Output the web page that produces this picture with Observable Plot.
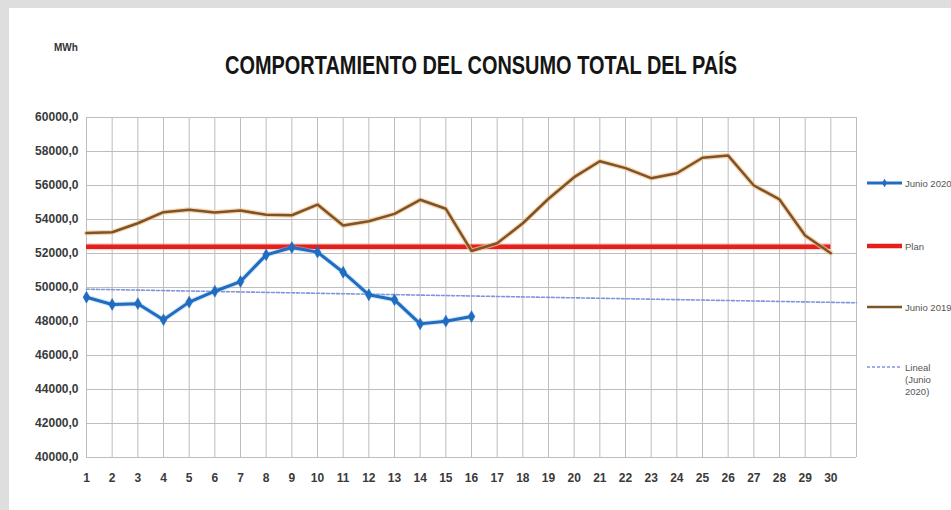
<!DOCTYPE html>
<html>
<head>
<meta charset="utf-8">
<script src="https://cdn.jsdelivr.net/npm/d3@7"></script>
<script src="https://cdn.jsdelivr.net/npm/@observablehq/plot@0.6"></script>
<style>
  html, body { margin: 0; padding: 0; }
  body { width: 951px; height: 510px; background: #dedede; position: relative; overflow: hidden; font-family: "Liberation Sans", Arial, sans-serif; }
  #panel { position: absolute; left: 9px; top: 8px; width: 960px; height: 520px; background: #ffffff; }
  #chart { position: absolute; left: 0; top: 0; }
  #unit { position: absolute; left: 54px; top: 42px; font-size: 10px; font-weight: bold; color: #333; }
  #title { position: absolute; left: 0; top: 0; }
  #legend { position: absolute; left: 0; top: 0; }
</style>
</head>
<body>
<div id="panel"></div>
<div id="chart"></div>
<div id="unit">MWh</div>
<svg id="title" width="951" height="100"></svg>
<svg id="legend" width="951" height="510"></svg>
<script>
const days = d3.range(1, 31);
const tickDays = d3.range(1, 31);
const gridDays = d3.range(1, 32);
const yTicks = d3.range(40000, 60001, 2000);

const junio2020Days = d3.range(1, 17);
const junio2020 = [49430, 49000, 49050, 48100, 49140, 49780, 50350, 51920, 52350, 52080, 50900, 49570, 49275, 47860, 48020, 48290];

const junio2019 = [53200, 53250, 53780, 54430, 54570, 54410, 54530, 54275, 54250, 54880,
                   53650, 53900, 54330, 55160, 54630, 52150, 52600, 53780, 55220, 56490,
                   57430, 57020, 56430, 56720, 57630, 57760, 56000, 55180, 53060, 52020];

const planValue = 52400;
const planDays = [1, 30];

const trendDays = [1, 31];
const trendValues = [49900, 49100];

const seriesNames = ["Junio 2020", "Plan", "Junio 2019", "Lineal (Junio 2020)"];

const colBlue = "#1f6cc0";
const colRed = "#e3201b";
const colBrown = "#7d5329";
const colTrend = "#7f95dc";

const data2020 = junio2020Days.map((d, i) => ({day: d, value: junio2020[i]}));
const data2019 = days.map((d, i) => ({day: d, value: junio2019[i]}));
const dataTrend = trendDays.map((d, i) => ({day: d, value: trendValues[i]}));

const fmt = d => d3.format(".1f")(d).replace(".", ",");

const chart = Plot.plot({
  width: 951,
  height: 510,
  marginLeft: 86,
  marginRight: 95,
  marginTop: 117,
  marginBottom: 53,
  style: {background: "transparent", fontFamily: "'Liberation Sans', Arial, sans-serif"},
  x: {domain: [1, 31], type: "linear"},
  y: {domain: [40000, 60000]},
  marks: [
    Plot.gridX(gridDays, {stroke: "#bdbdbd", strokeOpacity: 1, strokeWidth: 1}),
    Plot.gridY(yTicks, {stroke: "#bdbdbd", strokeOpacity: 1, strokeWidth: 1}),
    Plot.axisX(tickDays, {tickSize: 0, tickPadding: 16, tickFormat: d => String(d), fontSize: 12, fontWeight: "bold", fill: "#3a3a3a", label: null}),
    Plot.axisY(yTicks, {tickSize: 0, tickPadding: 8, tickFormat: fmt, fontSize: 12, fontWeight: "bold", fill: "#3a3a3a", label: null}),
    // trend
    Plot.line(dataTrend, {x: "day", y: "value", stroke: colTrend, strokeWidth: 1.6, strokeDasharray: "3,2"}),
    // plan
    Plot.ruleY([planValue], {x1: planDays[0], x2: planDays[1], stroke: "#f5a3a0", strokeWidth: 7, strokeOpacity: 0.5}),
    Plot.ruleY([planValue], {x1: planDays[0], x2: planDays[1], stroke: colRed, strokeWidth: 4.5}),
    // 2019
    Plot.line(data2019, {x: "day", y: "value", stroke: "#f6c58e", strokeWidth: 5, strokeOpacity: 0.7}),
    Plot.line(data2019, {x: "day", y: "value", stroke: colBrown, strokeWidth: 2.5}),
    // 2020
    Plot.line(data2020, {x: "day", y: "value", stroke: "#9cc8f0", strokeWidth: 5, strokeOpacity: 0.5}),
    Plot.line(data2020, {x: "day", y: "value", stroke: colBlue, strokeWidth: 3}),
    Plot.dot(data2020, {x: "day", y: "value", symbol: "diamond", r: 3.6, fill: colBlue, stroke: colBlue, strokeWidth: 0.5})
  ]
});
document.getElementById("chart").appendChild(chart);

// Title
const t = d3.select("#title");
t.append("text")
  .attr("x", 481).attr("y", 74)
  .attr("text-anchor", "middle")
  .attr("font-family", "'Liberation Sans', Arial, sans-serif")
  .attr("font-weight", "bold")
  .attr("font-size", 25)
  .attr("fill", "#151515")
  .attr("textLength", 512)
  .attr("lengthAdjust", "spacingAndGlyphs")
  .text("COMPORTAMIENTO DEL CONSUMO TOTAL DEL PAÍS");

// Legend
const lg = d3.select("#legend");
const items = [
  {name: seriesNames[0], y: 183, color: colBlue, w: 3, dash: null, marker: true, lines: ["Junio 2020"]},
  {name: seriesNames[1], y: 246, color: colRed, w: 4.5, dash: null, marker: false, lines: ["Plan"]},
  {name: seriesNames[2], y: 307, color: colBrown, w: 2.5, dash: null, marker: false, lines: ["Junio 2019"]},
  {name: seriesNames[3], y: 367, color: colTrend, w: 1.6, dash: "3,2", marker: false, lines: ["Lineal", "(Junio", "2020)"]}
];
items.forEach(it => {
  const l = lg.append("line").attr("x1", 867).attr("x2", 902).attr("y1", it.y).attr("y2", it.y)
    .attr("stroke", it.color).attr("stroke-width", it.w);
  if (it.dash) l.attr("stroke-dasharray", it.dash);
  if (it.marker) {
    lg.append("path").attr("d", d3.symbol(d3.symbolDiamond, 22)()).attr("transform", `translate(884.5,${it.y})`).attr("fill", it.color);
  }
  it.lines.forEach((s, i) => {
    lg.append("text").attr("x", 905).attr("y", it.y + i * 12 + 3.5)
      .attr("font-family", "'Liberation Sans', Arial, sans-serif")
      .attr("font-size", 9.5).attr("fill", "#555").text(s);
  });
});
</script>
</body>
</html>
